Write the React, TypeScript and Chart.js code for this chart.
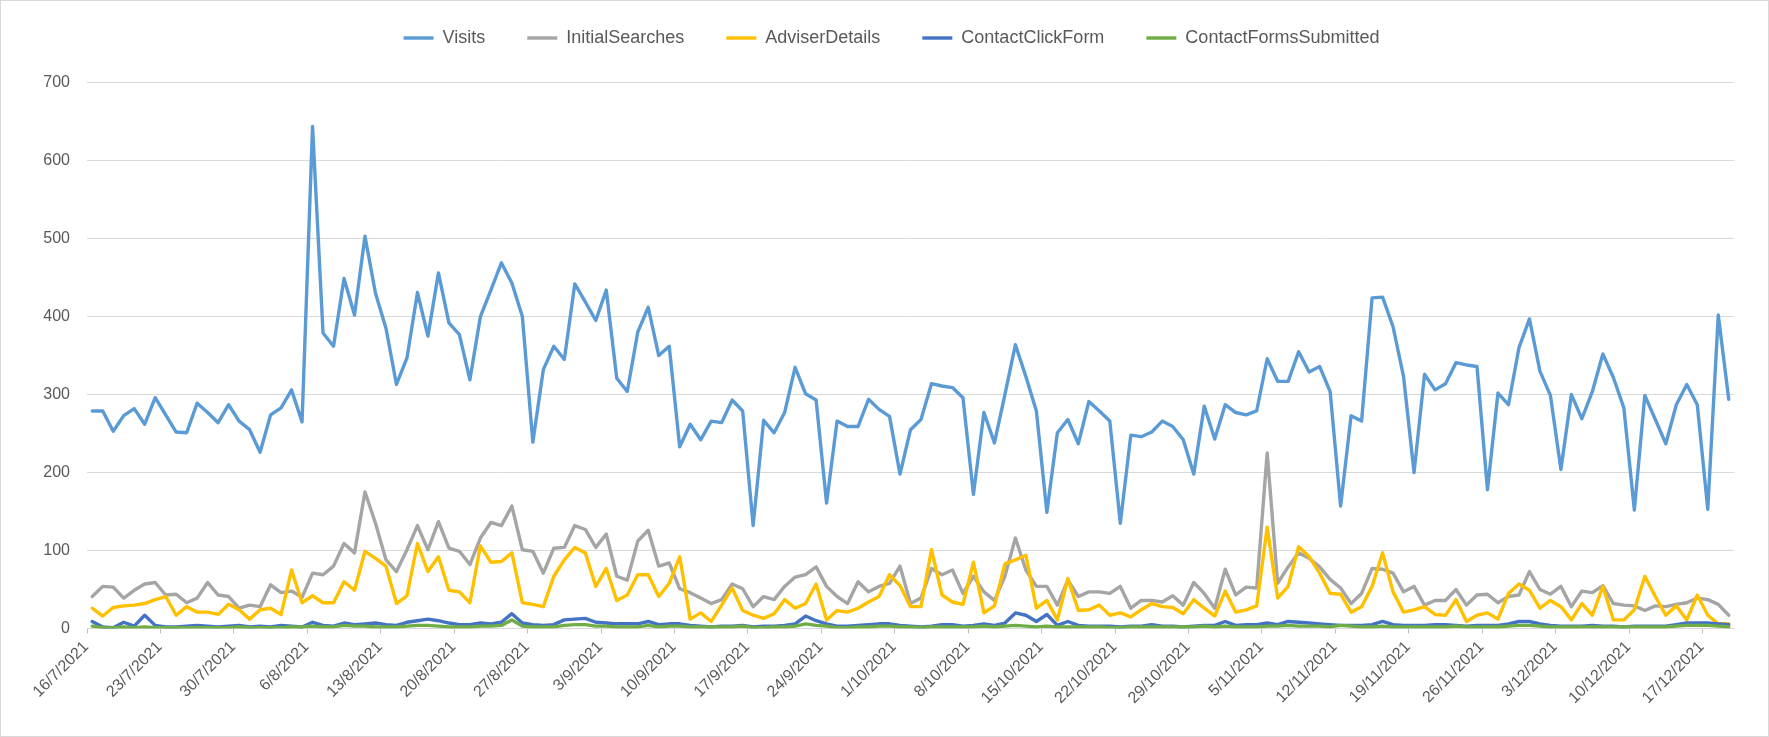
import React, { useEffect, useRef } from 'react';
import { Chart, registerables } from 'chart.js';

Chart.register(...registerables);

// Daily categories: [month, first day, last day] for 2021
const MONTH_SPANS: [number, number, number][] = [
  [7, 16, 31], [8, 1, 31], [9, 1, 30], [10, 1, 31], [11, 1, 30], [12, 1, 19],
];
const YEAR = 2021;
const DATES: string[] = MONTH_SPANS.flatMap(([m, a, b]) =>
  Array.from({ length: b - a + 1 }, (_, k) => `${a + k}/${m}/${YEAR}`)
);
const TICK_EVERY = 7;
const Y_TICKS = [0, 100, 200, 300, 400, 500, 600, 700];

const VISITS = [
  279, 279, 253, 273, 282, 262, 296, 274, 252, 251, 289, 277, 264, 287, 266, 255, 226, 274, 283, 306, 265, 644, 379, 362, 449, 402,
  503, 430, 385, 313, 347, 431, 375, 456, 392, 377, 319, 400, 434, 469, 443, 400, 239, 332, 362, 345, 442, 419, 395, 434, 321, 304, 380,
  412, 350, 362, 233, 262, 242, 266, 264, 293, 279, 132, 267, 251, 277, 335, 301, 293, 161, 266, 259, 259, 294, 281, 272, 198, 255, 268,
  314, 311, 309, 296, 172, 277, 238, 300, 364, 323, 279, 149, 251, 268, 237, 291, 279, 266, 135, 248, 246, 252, 266, 259, 242, 198,
  285, 243, 287, 277, 274, 279, 346, 317, 317, 355, 329, 336, 304, 157, 273, 266, 424, 425, 387, 323, 200, 326, 306, 314, 341, 338, 336,
  178, 302, 287, 360, 397, 330, 299, 204, 300, 269, 304, 352, 322, 283, 152, 299, 268, 237, 287, 313, 287, 153, 402, 294,
];

const INITIAL_SEARCHES = [
  41, 54, 53, 39, 49, 57, 59, 43, 44, 33, 39, 59, 43, 41, 26, 30, 28, 56, 46, 48, 40, 71, 69, 80, 109, 97,
  175, 135, 88, 73, 101, 132, 101, 137, 103, 99, 82, 116, 136, 132, 157, 101, 99, 71, 103, 104, 132, 127, 104, 121, 67, 62, 112,
  126, 80, 84, 51, 46, 39, 32, 37, 57, 51, 28, 41, 37, 54, 66, 69, 79, 54, 41, 32, 60, 47, 54, 58, 80, 32, 39,
  77, 69, 75, 45, 67, 47, 36, 67, 116, 75, 54, 54, 30, 62, 41, 47, 47, 45, 54, 26, 36, 36, 34, 42, 30, 59,
  45, 26, 76, 43, 53, 52, 225, 58, 79, 97, 90, 79, 63, 52, 32, 45, 77, 76, 71, 47, 54, 30, 36, 36, 50, 30, 43,
  44, 33, 41, 43, 73, 50, 44, 54, 28, 48, 46, 55, 32, 30, 29, 23, 29, 28, 31, 33, 39, 37, 31, 17,
];

const ADVISER_DETAILS = [
  26, 16, 27, 29, 30, 32, 37, 41, 17, 28, 21, 21, 18, 31, 24, 12, 24, 26, 18, 75, 33, 42, 33, 33, 60, 49,
  99, 90, 80, 32, 42, 109, 73, 92, 49, 47, 33, 106, 85, 86, 97, 33, 31, 28, 67, 88, 104, 97, 54, 77, 36, 43, 69,
  69, 41, 58, 92, 12, 20, 9, 30, 52, 23, 17, 13, 19, 37, 26, 32, 57, 11, 23, 21, 26, 34, 41, 69, 55, 28, 28,
  101, 43, 34, 31, 85, 20, 29, 83, 88, 94, 26, 36, 11, 64, 23, 24, 30, 17, 20, 15, 24, 32, 28, 27, 19, 37,
  26, 16, 48, 21, 24, 29, 130, 39, 54, 105, 92, 71, 45, 44, 21, 28, 54, 97, 47, 21, 24, 28, 18, 17, 37, 9, 17,
  20, 12, 45, 57, 49, 26, 36, 28, 11, 32, 17, 54, 11, 11, 24, 67, 41, 17, 29, 11, 43, 17, 6, 6,
];

const CONTACT_CLICK_FORM = [
  9, 2, 1, 8, 3, 17, 4, 2, 2, 3, 4, 3, 2, 3, 4, 2, 3, 2, 4, 3, 2, 8, 4, 3, 7, 5,
  6, 7, 5, 4, 8, 10, 12, 10, 7, 5, 5, 7, 6, 8, 19, 7, 5, 4, 5, 11, 12, 13, 8, 7, 6, 6, 6,
  9, 5, 6, 6, 4, 3, 2, 3, 3, 4, 2, 3, 3, 4, 6, 16, 10, 6, 3, 3, 4, 5, 6, 6, 4, 3, 2,
  3, 5, 5, 3, 4, 6, 4, 7, 20, 17, 9, 18, 4, 9, 4, 3, 3, 3, 2, 3, 3, 5, 3, 3, 2, 3,
  4, 4, 9, 4, 5, 5, 7, 5, 9, 8, 7, 6, 5, 4, 4, 4, 5, 9, 5, 4, 4, 4, 5, 5, 4, 3, 4,
  4, 4, 6, 9, 9, 6, 4, 3, 3, 3, 4, 3, 3, 2, 3, 3, 3, 3, 5, 7, 7, 7, 6, 5,
];

const CONTACT_FORMS_SUBMITTED = [
  3, 1, 1, 2, 1, 2, 1, 1, 1, 1, 1, 1, 1, 1, 2, 1, 1, 1, 1, 2, 2, 3, 2, 2, 4, 3,
  3, 2, 2, 2, 3, 4, 4, 3, 2, 2, 2, 3, 3, 4, 11, 3, 2, 2, 2, 4, 5, 5, 3, 3, 2, 2, 2,
  4, 2, 3, 3, 2, 2, 2, 2, 2, 3, 1, 1, 2, 2, 3, 6, 4, 3, 1, 1, 2, 2, 3, 3, 2, 2, 1,
  2, 2, 2, 2, 2, 3, 2, 3, 4, 3, 2, 3, 2, 2, 2, 2, 2, 1, 1, 2, 2, 2, 2, 2, 2, 2,
  3, 2, 3, 2, 2, 2, 3, 3, 4, 3, 3, 3, 2, 4, 3, 2, 2, 3, 2, 2, 2, 2, 2, 2, 3, 2, 2,
  2, 2, 3, 4, 4, 3, 2, 2, 2, 2, 2, 2, 2, 2, 2, 2, 2, 2, 3, 4, 4, 4, 3, 2,
];

const SERIES_NAMES = ['Visits', 'InitialSearches', 'AdviserDetails', 'ContactClickForm', 'ContactFormsSubmitted'];
const SERIES_VALUES = [VISITS, INITIAL_SEARCHES, ADVISER_DETAILS, CONTACT_CLICK_FORM, CONTACT_FORMS_SUBMITTED];
const SERIES_COLORS = ['#5B9BD5', '#A5A5A5', '#FFC000', '#4472C4', '#70AD47'];

const FONT_FAMILY = "'Liberation Sans', Arial, sans-serif";
const TEXT_COLOR = '#595959';
const GRID_COLOR = '#d9d9d9';

const W = 1767;
const H = 735;

export default function App() {
  const canvasRef = useRef<HTMLCanvasElement | null>(null);

  useEffect(() => {
    document.body.style.margin = '0';
    const canvas = canvasRef.current;
    if (!canvas) return;
    const chart = new Chart(canvas, {
      type: 'line',
      data: {
        labels: DATES,
        datasets: SERIES_NAMES.map((name, i) => ({
          label: name,
          data: SERIES_VALUES[i],
          borderColor: SERIES_COLORS[i],
          backgroundColor: SERIES_COLORS[i],
          borderWidth: 3.4,
          pointRadius: 0,
          pointHoverRadius: 0,
          tension: 0,
          fill: false,
          borderJoinStyle: 'round' as const,
          borderCapStyle: 'round' as const,
          order: SERIES_NAMES.length - i,
        })),
      },
      options: {
        responsive: false,
        animation: false,
        devicePixelRatio: 1,
        layout: { padding: { left: 27, right: 13, top: -14, bottom: 0 } },
        plugins: {
          legend: {
            position: 'top',
            align: 'center',
            labels: {
              usePointStyle: true,
              pointStyle: 'line',
              pointStyleWidth: 30,
              color: TEXT_COLOR,
              font: { family: FONT_FAMILY, size: 18 },
              padding: 42,
              sort: (a: any, b: any) => a.datasetIndex - b.datasetIndex,
            },
          },
          tooltip: { enabled: false },
        },
        scales: {
          x: {
            type: 'category',
            offset: true,
            grid: {
              display: true,
              drawOnChartArea: false,
              drawTicks: true,
              tickLength: 5,
              offset: true,
              color: (ctx: any) => (ctx.index !== undefined && ctx.index % TICK_EVERY === 0 ? '#bfbfbf' : 'rgba(0,0,0,0)'),
            },
            border: { display: true, color: GRID_COLOR, width: 1 },
            ticks: {
              autoSkip: false,
              minRotation: 45,
              maxRotation: 45,
              padding: 4,
              labelOffset: -6,
              color: TEXT_COLOR,
              font: { family: FONT_FAMILY, size: 16 },
              callback: (_v: any, i: number) => (i % TICK_EVERY === 0 ? DATES[i] : ''),
            },
            afterFit: (s: any) => {
              s.height = 107.5;
            },
          },
          xTop: {
            type: 'category',
            position: 'top',
            display: true,
            grid: { display: false },
            border: { display: false },
            ticks: { display: false },
            afterFit: (s: any) => {
              s.height = 25.7;
            },
          },
          y: {
            min: 0,
            max: 700,
            afterBuildTicks: (s: any) => {
              s.ticks = Y_TICKS.map((v) => ({ value: v }));
            },
            ticks: {
              padding: 17,
              color: TEXT_COLOR,
              font: { family: FONT_FAMILY, size: 16 },
            },
            grid: { color: GRID_COLOR, drawTicks: false, lineWidth: 1 },
            border: { display: false },
            afterFit: (s: any) => {
              s.width = 59;
            },
          },
          yRight: {
            type: 'linear',
            position: 'right',
            display: true,
            grid: { display: false },
            border: { display: false },
            ticks: { display: false },
            afterFit: (s: any) => {
              s.width = 21;
            },
          },
        },
      } as any,
    });
    return () => chart.destroy();
  }, []);

  return (
    <div
      style={{
        width: 1769,
        height: 737,
        boxSizing: 'border-box',
        border: '1px solid #d9d9d9',
        background: '#ffffff',
      }}
    >
      <canvas ref={canvasRef} width={W} height={H} style={{ display: 'block', width: W, height: H }} />
    </div>
  );
}
